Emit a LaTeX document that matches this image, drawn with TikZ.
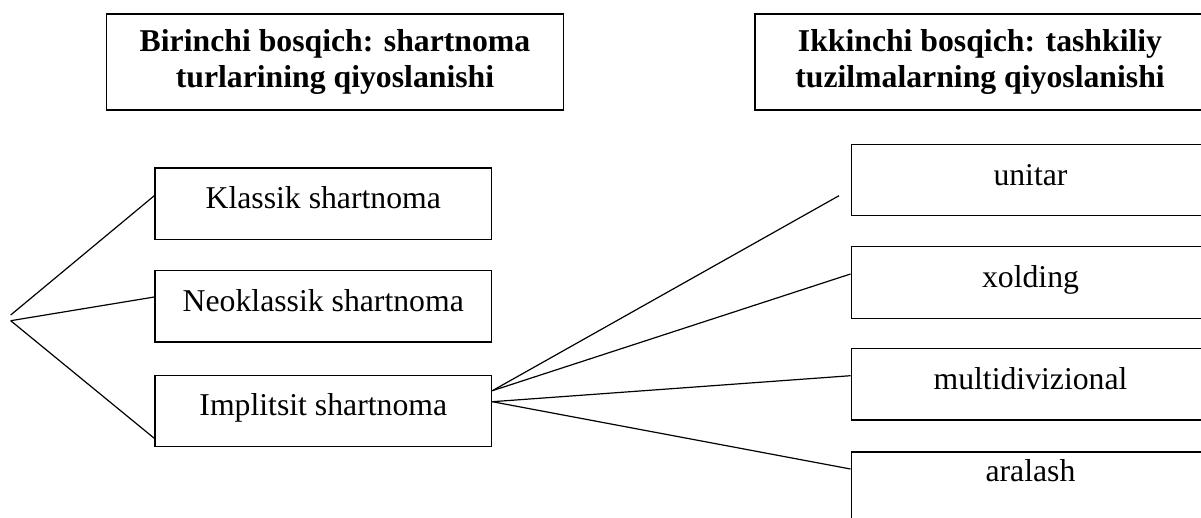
\documentclass[tikz,border=0pt]{standalone}
\usepackage{fontspec}
\setmainfont{Liberation Serif}
\usetikzlibrary{calc}
\tikzset{
  box/.style={draw, line width=1pt, minimum height=53.6pt, inner sep=0pt,
    text height=7.5pt, text depth=0pt, font=\fontsize{23.8}{27}\selectfont},
  headbox/.style={draw, line width=1pt, minimum height=72pt, inner sep=0pt,
    align=center, font=\fontsize{23.8}{27.5}\selectfont\bfseries},
  link/.style={line width=0.9pt}
}

\begin{document}
\begin{tikzpicture}[x=0.75pt,y=0.75pt,yscale=-1,xscale=1]
\useasboundingbox (0,0) rectangle (1201,517);

% Heads
\node [headbox, minimum width=342.5pt] (head1) at (335,62) {Birinchi bosqich: shartnoma\\turlarining qiyoslanishi};
\node [headbox, minimum width=337.5pt] (head2) at (980,62) {Ikkinchi bosqich: tashkiliy\\tuzilmalarning qiyoslanishi};

% Shartnoma turlari
\node [box, minimum width=252.5pt] (klassik) at (323.3,203.8) {Klassik shartnoma};
\node [box, minimum width=252.5pt] (neoklassik) at (323.3,306.4) {Neoklassik shartnoma};
\node [box, minimum width=252.5pt] (implitsit) at (323.3,410.9) {Implitsit shartnoma};

% Tashkiliy tuzilmalar
\node [box, minimum width=269pt] (unitar) at (1030.5,180) {unitar};
\node [box, minimum width=269pt] (xolding) at (1030.5,282.5) {xolding};
\node [box, minimum width=269pt] (multidiv) at (1030.5,384.2) {multidivizional};
\node [box, minimum width=269pt, text height=0pt, text depth=9pt] (aralash) at (1030.5,487.7) {aralash};

% Fan points
\coordinate (fantop) at (10.7,315);
\coordinate (fan) at (10.7,320.7);
\coordinate (imp1) at ($(implitsit.east)+(0,-20.2)$);
\coordinate (imp2) at ($(implitsit.east)+(0,-9.2)$);
\coordinate (uend) at (839,195.7);

%Straight Lines
\draw [link] (fantop) -- ($(klassik.west)+(0,-8.1)$);
\draw [link] (fan) -- ($(neoklassik.west)+(0,-9.4)$);
\draw [link] (fan) -- ($(implitsit.south west)+(0,-9)$);
%Straight Lines
\draw [link] (imp1) -- (uend);
\draw [link] (imp1) -- ($(xolding.west)+(0,-8.5)$);
\draw [link] (imp2) -- ($(multidiv.west)+(0,-8.5)$);
\draw [link] (imp2) -- ($(aralash.west)+(0,-18.7)$);

\end{tikzpicture}
\end{document}
